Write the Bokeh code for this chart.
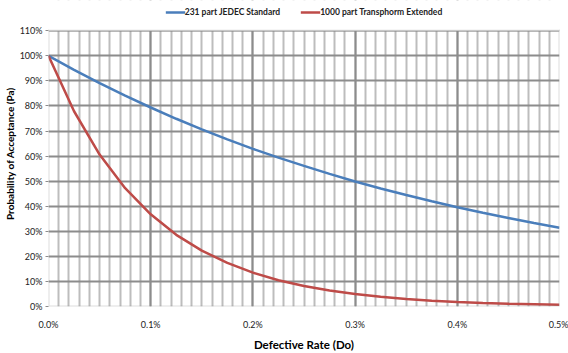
from bokeh.plotting import figure
from bokeh.models import (Range1d, FixedTicker, PrintfTickFormatter, Legend, LegendItem,
                          BoxAnnotation)
from bokeh.embed import file_html
from bokeh.resources import INLINE

# ---- data (percent units) ----
defect_rate = [0.0, 0.025, 0.05, 0.075, 0.1, 0.125, 0.15, 0.175, 0.2, 0.225, 0.25,
               0.275, 0.3, 0.325, 0.35, 0.375, 0.4, 0.425, 0.45, 0.475, 0.5]
jedec_231 = [100.0, 94.4, 89.1, 84.1, 79.4, 74.9, 70.7, 66.7, 62.9, 59.4, 56.1,
             52.9, 49.9, 47.1, 44.5, 42.0, 39.6, 37.4, 35.3, 33.3, 31.4]
transphorm_1000 = [100.0, 77.9, 60.6, 47.2, 36.8, 28.6, 22.3, 17.4, 13.5, 10.5, 8.2,
                   6.4, 5.0, 3.9, 3.0, 2.3, 1.8, 1.4, 1.1, 0.9, 0.7]
series_names = ["231 part JEDEC Standard", "1000 part Transphorm Extended"]
x_ticks = [0.0, 0.1, 0.2, 0.3, 0.4, 0.5]
x_minor = [i / 100 for i in range(0, 51)]
y_ticks = [0, 10, 20, 30, 40, 50, 60, 70, 80, 90, 100, 110]
x_title = "Defective Rate (Do)"
y_title = "Probability of Acceptance (Pa)"

FONT = "Lato"
W, H = 568, 353
ML, MR, MB = 47, 9, 40
TOP_BAND = 31                    # pixels above the 110% line, holding the legend
Y_MAX = 110.0
FH = H - MB                      # frame reaches the top of the canvas
y_top = Y_MAX * FH / (FH - TOP_BAND)

p = figure(width=W, height=H, output_backend="svg", toolbar_location=None,
           x_range=Range1d(0, 0.5), y_range=Range1d(0, y_top),
           min_border_left=ML, min_border_right=MR, min_border_top=0, min_border_bottom=MB)
p.background_fill_color = "white"
p.border_fill_color = "white"
p.outline_line_color = None

# grid
p.xgrid.ticker = FixedTicker(ticks=x_ticks, minor_ticks=x_minor)
p.xgrid.grid_line_color = "#8c8c8c"
p.xgrid.grid_line_width = 2
p.xgrid.minor_grid_line_color = "#bdbdbd"
p.xgrid.minor_grid_line_width = 2
p.ygrid.ticker = FixedTicker(ticks=y_ticks)
p.ygrid.grid_line_color = "#8c8c8c"
p.ygrid.grid_line_width = 2

# axes
p.xaxis.ticker = FixedTicker(ticks=x_ticks)
p.xaxis.formatter = PrintfTickFormatter(format="%.1f%%")
p.yaxis.ticker = FixedTicker(ticks=y_ticks)
p.yaxis.formatter = PrintfTickFormatter(format="%d%%")
for ax in (p.xaxis[0], p.yaxis[0]):
    ax.axis_line_color = None
    ax.minor_tick_line_color = None
    ax.major_tick_in = 0
    ax.major_label_text_font = FONT
    ax.major_label_text_font_size = "9px"
    ax.major_label_text_color = "#222222"
p.xaxis.major_tick_line_color = None
p.xaxis.major_tick_out = 0
p.xaxis.major_label_standoff = 12
p.yaxis.major_tick_line_color = "#8c8c8c"
p.yaxis.major_tick_out = 3
p.yaxis.major_label_standoff = 3
p.xaxis.axis_label = x_title
p.xaxis.axis_label_text_font = FONT
p.xaxis.axis_label_text_font_size = "11.5px"
p.xaxis.axis_label_text_font_style = "bold"
p.xaxis.axis_label_text_color = "#000000"
p.xaxis.axis_label_standoff = 5

p.yaxis.axis_label = y_title
p.yaxis.axis_label_text_font = FONT
p.yaxis.axis_label_text_font_size = "10px"
p.yaxis.axis_label_text_font_style = "bold"
p.yaxis.axis_label_text_color = "#000000"
p.yaxis.axis_label_standoff = 1

r1 = p.line(defect_rate, jedec_231, line_color="#4a7ebb", line_width=2.5)
r2 = p.line(defect_rate, transphorm_1000, line_color="#be4b48", line_width=2.5)

# blank band above 110% (legend area) and the plot-area border
p.add_layout(BoxAnnotation(bottom=Y_MAX, fill_color="white", fill_alpha=1.0,
                           line_color=None))
p.add_layout(BoxAnnotation(left=0, right=0.5, bottom=0, top=Y_MAX, fill_alpha=0,
                           line_color="#8c8c8c", line_width=2))

legend = Legend(items=[LegendItem(label=series_names[0], renderers=[r1]),
                       LegendItem(label=series_names[1], renderers=[r2])],
                orientation="horizontal", location="top_center",
                glyph_width=20, glyph_height=10, label_height=10,
                label_standoff=0, spacing=20, padding=0, margin=7,
                border_line_color=None, background_fill_alpha=0,
                label_text_font=FONT, label_text_font_size="8.5px",
                label_text_font_style="bold", label_text_color="#222222")
p.add_layout(legend)

open("out.html", "w").write(file_html(p, INLINE))
